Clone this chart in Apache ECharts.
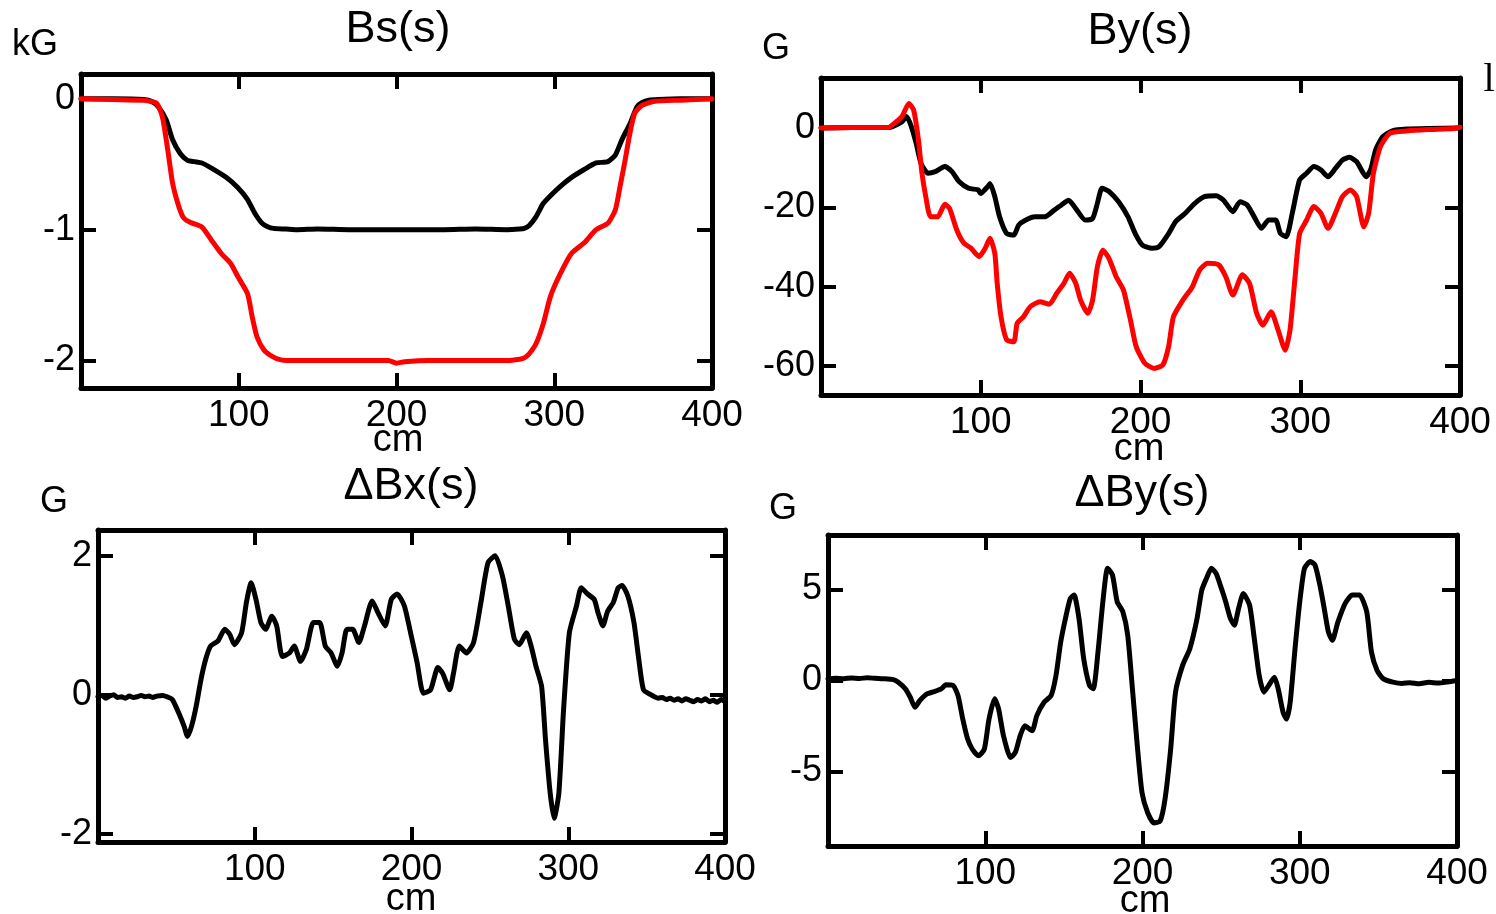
<!DOCTYPE html>
<html>
<head>
<meta charset="utf-8">
<script src="https://cdn.jsdelivr.net/npm/echarts@6/dist/echarts.min.js"></script>
<style>
  html, body { margin: 0; padding: 0; background: #fff; }
  #chart { width: 1496px; height: 914px; }
</style>
</head>
<body>
<div id="chart"></div>
<script>
// ---- Field profiles along the beam path (s in cm) ----

// Bs(s), kG
const bsBlackS = [0, 20, 40, 45, 49, 54, 58, 63, 67.5, 72, 76.7, 82.7, 92, 99.5, 105.6, 110, 114.7, 118, 122, 130, 137, 150, 170, 200, 230, 250, 270, 278, 281, 284, 288.5, 293, 297.6, 303.7, 311, 319, 326.5, 334, 338.7, 343, 348, 352.5, 356, 360, 366, 380, 400];
const bsBlackV = [0, 0, -0.005, -0.02, -0.06, -0.16, -0.31, -0.42, -0.47, -0.48, -0.49, -0.53, -0.6, -0.68, -0.77, -0.87, -0.95, -0.975, -0.99, -0.995, -1.0, -0.995, -1.0, -1.0, -1.0, -0.995, -1.0, -0.995, -0.99, -0.97, -0.9, -0.8, -0.74, -0.67, -0.6, -0.54, -0.49, -0.48, -0.43, -0.31, -0.19, -0.06, -0.025, -0.01, -0.005, 0, 0];

const bsRedS = [0, 20, 40, 44, 47.6, 50, 52, 55, 58, 61.4, 64.5, 67, 70.5, 76.7, 82.7, 88.8, 95, 99.5, 105.6, 108.6, 111.6, 116, 120, 124, 130, 150, 180, 195, 200, 205, 220, 250, 270, 278, 281, 284, 288.5, 293, 297.6, 303.7, 311, 319, 326.5, 334, 338.7, 341.7, 344.9, 348, 351, 355.6, 363, 380, 400];
const bsRedV = [0, -0.005, -0.01, -0.02, -0.03, -0.08, -0.16, -0.39, -0.64, -0.8, -0.9, -0.93, -0.95, -0.98, -1.08, -1.18, -1.26, -1.36, -1.49, -1.67, -1.82, -1.92, -1.96, -1.985, -2.0, -2.0, -2.0, -2.0, -2.02, -2.01, -2.0, -2.0, -2.0, -1.99, -1.98, -1.95, -1.87, -1.72, -1.51, -1.34, -1.18, -1.1, -1.0, -0.95, -0.85, -0.67, -0.47, -0.26, -0.11, -0.05, -0.02, -0.01, 0];

// By(s), G
const byBlackS = [0, 20, 42, 44.7, 50.7, 53.6, 56.6, 59.6, 62.6, 67, 71.5, 77.5, 82, 86.4, 92.4, 98.4, 99.9, 104.3, 105.8, 108.8, 111.8, 116.2, 120.7, 123.7, 128.2, 134, 140, 146, 150.5, 155, 159.5, 165.4, 170, 173, 175.9, 180.3, 186.3, 192.2, 196.7, 201.2, 207.2, 211.6, 217.6, 222, 228, 234, 240, 247.4, 252, 257.8, 262.3, 266.8, 271.2, 275.7, 280.2, 284.6, 287.6, 291.2, 295, 299.6, 304, 308.5, 313, 317.4, 322, 326.4, 330.8, 335.3, 341.3, 344.3, 347.2, 351.7, 357.7, 366.6, 380, 400];
const byBlackV = [0, 0.1, 0.1, 0.3, 1.6, 2.9, 0.3, -3.9, -8.9, -11.4, -11, -9.7, -11, -13.5, -15.2, -15.6, -16.5, -14.8, -14, -17.3, -22.4, -26.6, -27, -24.5, -23.2, -22.4, -22.4, -20.7, -19.4, -18.2, -20.3, -23.2, -22.8, -19, -15.2, -16, -18.6, -22.4, -26.6, -29.5, -30.3, -29.9, -26.6, -23.6, -21.5, -19, -17.3, -17.1, -18.2, -21.1, -18.6, -19.4, -22.4, -25.3, -23.2, -23.2, -26.6, -27.4, -21.5, -13.1, -11.4, -9.7, -10.6, -12.3, -10.2, -8.1, -7.4, -8.5, -12.3, -10.2, -5.5, -2.2, -0.7, -0.25, -0.1, 0];

const byRedS = [0, 20, 42, 44.7, 50.7, 55, 58, 61, 63.2, 65.6, 68.6, 73, 77.5, 80.5, 85, 89.4, 93.9, 99, 102.8, 105.8, 108.8, 110.3, 112.7, 116.2, 120.7, 122.8, 126.7, 131.1, 137, 143, 147.5, 152, 155.6, 159.5, 162.5, 167, 170, 173, 176.5, 180.3, 184.8, 189.3, 193.7, 197.3, 202.7, 208.6, 214, 217.6, 220.6, 226.5, 232.5, 237, 242, 248.9, 253.4, 257.8, 263.8, 268.3, 272.7, 276.6, 281.7, 286.1, 290.6, 293.6, 296.6, 299.6, 304, 308.5, 313, 317.4, 322, 326.4, 331.4, 335.3, 339.8, 342.8, 345.8, 350.2, 356.2, 366.6, 380, 396, 400];
const byRedV = [0, 0.1, 0.1, 0.8, 2.9, 6.2, 4.5, -3, -11.4, -17.3, -22.4, -22.4, -19.2, -20.3, -25.7, -29, -30.3, -32.4, -30.3, -27.8, -31.6, -39.2, -47.6, -53.4, -53.9, -49.2, -47.6, -45, -43.8, -44.4, -41.7, -39.2, -36.6, -39.2, -43.4, -46.7, -43.4, -35, -30.8, -32.9, -37.5, -40.8, -48.4, -55.1, -59.3, -60.6, -59.7, -55.1, -47.6, -43.4, -40, -35.8, -34.1, -34.5, -37.5, -42.1, -37, -39.2, -46.7, -49.7, -46.3, -50.9, -56, -50.9, -38.3, -26.6, -23.2, -19.8, -21.5, -25.3, -21.5, -17.3, -15.6, -17.3, -24.9, -21.5, -11.4, -4.7, -1.3, -0.75, -0.4, -0.1, 0.2];

// ΔBx(s), G
const dbxS = [0, 2.5, 5, 7.5, 10, 12.5, 15, 17.5, 20, 22.5, 25, 27.5, 30, 32.5, 35, 37.5, 41.3, 44, 47.4, 52, 55, 57.1, 59.6, 62.6, 65.7, 68.7, 71.8, 76.4, 80.9, 84, 87, 91.6, 94.7, 97.7, 100.8, 103.9, 106.9, 110.9, 114, 117.6, 122.2, 125.2, 129.2, 132.9, 137.4, 141.4, 145, 148.7, 152.7, 155.7, 158.8, 162.5, 166.4, 170, 174.9, 178.6, 183.2, 187.1, 190.8, 195.4, 199.9, 203.6, 207.6, 212.2, 216.8, 219.8, 224.4, 226.8, 230.5, 235.1, 239.6, 244.3, 248.8, 253.4, 258, 261.7, 265.6, 268.7, 273.3, 276.3, 279.4, 283, 285.5, 288.5, 291, 294, 297, 300.7, 305.3, 308.3, 312.3, 316.6, 319, 322.1, 325.1, 328.8, 331.9, 334.3, 338, 341.9, 345, 348, 352.6, 355, 357.5, 360, 362.5, 365, 367.5, 370, 372.5, 375, 377.5, 380, 382.5, 385, 387.5, 390, 392.5, 395, 397.5, 400];
const dbxV = [-0.03, -0.01, -0.05, -0.02, 0.0, -0.04, -0.03, -0.05, -0.02, -0.04, -0.03, -0.01, -0.03, -0.02, -0.04, -0.02, -0.01, -0.03, -0.07, -0.29, -0.46, -0.6, -0.46, -0.17, 0.22, 0.51, 0.7, 0.77, 0.94, 0.87, 0.72, 0.89, 1.33, 1.61, 1.37, 1.04, 0.94, 1.13, 0.99, 0.55, 0.6, 0.7, 0.48, 0.65, 1.04, 1.04, 0.7, 0.6, 0.41, 0.6, 0.94, 0.94, 0.75, 0.99, 1.35, 1.18, 0.99, 1.37, 1.45, 1.28, 0.84, 0.46, 0.02, 0.07, 0.39, 0.31, 0.07, 0.31, 0.7, 0.6, 0.75, 1.33, 1.9, 2.0, 1.71, 1.28, 0.8, 0.72, 0.89, 0.7, 0.41, 0.12, -0.65, -1.42, -1.78, -1.42, -0.22, 0.89, 1.28, 1.54, 1.45, 1.37, 1.18, 0.99, 1.2, 1.33, 1.54, 1.57, 1.42, 1.04, 0.51, 0.07, 0.0, -0.03, -0.05, -0.04, -0.07, -0.05, -0.08, -0.06, -0.09, -0.06, -0.08, -0.1, -0.07, -0.09, -0.06, -0.1, -0.08, -0.11, -0.07, -0.1, -0.09];

// ΔBy(s), G
const dbyS = [0, 5, 10, 15, 20, 25, 30, 35, 41.6, 44.7, 49.2, 52.3, 55.3, 58.4, 62.9, 67.5, 72, 75, 79.6, 82.7, 85.7, 88.8, 91.8, 95.7, 99.4, 102.4, 106, 108.5, 111.6, 116.1, 119.1, 122.2, 125.2, 129.8, 132.8, 137.4, 141.9, 145, 148, 151, 154.1, 156.5, 159.6, 162.6, 166.3, 168.7, 171.7, 174.8, 177.8, 180.9, 183.9, 187.5, 190.6, 193.6, 196.7, 199.7, 203.3, 207.3, 211.2, 214.3, 217.9, 221, 225.5, 230.1, 234.7, 237.7, 240.7, 243.8, 246.8, 249.8, 252.9, 255.9, 258.4, 261.1, 264.1, 268.1, 271.1, 274.2, 277.2, 280.2, 283.9, 286.3, 289.4, 291.5, 293.9, 297, 300, 303, 306.7, 309.7, 312.8, 315.2, 318.2, 320.7, 324.3, 328.9, 333.4, 338, 342.6, 345.6, 349.2, 353.2, 359.3, 365, 370, 376, 382, 388, 394, 400];
const dbyV = [0.08, 0.12, 0.1, 0.14, 0.11, 0.15, 0.12, 0.1, 0.05, -0.1, -0.46, -0.92, -1.47, -1.1, -0.74, -0.61, -0.46, -0.24, -0.28, -0.83, -2.12, -3.22, -3.78, -4.14, -3.78, -2.12, -1.01, -1.57, -3.04, -4.24, -3.96, -3.04, -2.49, -2.76, -1.93, -1.2, -0.83, 0.28, 2.12, 3.41, 4.51, 4.7, 3.41, 1.2, -0.28, -0.46, 1.57, 4.33, 6.17, 5.8, 4.33, 3.78, 2.49, -0.46, -3.59, -6.17, -7.27, -7.83, -7.73, -6.54, -3.78, -0.64, 0.83, 1.75, 3.41, 4.97, 5.62, 6.17, 5.89, 5.16, 4.33, 3.41, 3.04, 3.96, 4.79, 4.14, 2.3, 0.28, -0.64, -0.28, 0.18, -0.46, -1.75, -2.12, -1.2, 1.75, 4.33, 6.17, 6.54, 6.35, 5.25, 4.14, 2.67, 2.21, 3.22, 4.24, 4.7, 4.7, 3.78, 1.57, 0.55, 0.09, -0.09, -0.16, -0.12, -0.18, -0.1, -0.14, -0.08, 0];

// Axis tick / label positions
const xLabelVals = [100, 200, 300, 400];
const xTickVals = [100, 200, 300];
const bsTicks = [0, -1, -2];
const byTicks = [0, -20, -40, -60];
const dbxTicks = [2, 0, -2];
const dbyTicks = [5, 0, -5];

const FONT = "'Liberation Sans', Arial, Helvetica, sans-serif";
const pairs = (s, v) => s.map((x, i) => [x, v[i]]);

const panels = [
  { grid: { left: 81, top: 74, width: 631, height: 314 }, yMin: -2.21, yMax: 0.19, ticks: bsTicks },
  { grid: { left: 821, top: 78, width: 639, height: 317 }, yMin: -67.3, yMax: 12.6, ticks: byTicks },
  { grid: { left: 98, top: 530, width: 627, height: 312 }, yMin: -2.12, yMax: 2.37, ticks: dbxTicks },
  { grid: { left: 828, top: 535, width: 629, height: 311 }, yMin: -9.1, yMax: 8.0, ticks: dbyTicks }
];

const lineAxis = { show: true, onZero: false, lineStyle: { color: '#000', width: 5 } };
const tickStyle = { color: '#000', width: 4 };

const grids = [], xAxes = [], yAxes = [];
panels.forEach((p, gi) => {
  grids.push(Object.assign({ containLabel: false }, p.grid));
  ['bottom', 'top'].forEach(pos => {
    xAxes.push({
      gridIndex: gi, type: 'value', position: pos, min: 0, max: 400,
      axisLine: lineAxis,
      axisTick: { show: true, inside: true, length: 15, lineStyle: tickStyle, customValues: xTickVals },
      axisLabel: {
        show: pos === 'bottom', customValues: xLabelVals, margin: 9,
        fontSize: 37, fontFamily: FONT, color: '#000'
      },
      splitLine: { show: false }
    });
  });
  ['left', 'right'].forEach(pos => {
    yAxes.push({
      gridIndex: gi, type: 'value', position: pos, min: p.yMin, max: p.yMax,
      axisLine: lineAxis,
      axisTick: { show: true, inside: true, length: 15, lineStyle: tickStyle, customValues: p.ticks },
      axisLabel: {
        show: pos === 'left', customValues: p.ticks, margin: 6,
        fontSize: 36, fontFamily: FONT, color: '#000'
      },
      splitLine: { show: false }
    });
  });
});

function line(gi, data, color) {
  return {
    type: 'line', xAxisIndex: gi * 2, yAxisIndex: gi * 2, data: data,
    showSymbol: false, smooth: 0.2, clip: true,
    lineStyle: { color: color, width: 5, cap: 'round', join: 'round' },
    emphasis: { disabled: true }
  };
}

const series = [
  line(0, pairs(bsBlackS, bsBlackV), '#000'),
  line(0, pairs(bsRedS, bsRedV), '#ff0000'),
  line(1, pairs(byBlackS, byBlackV), '#000'),
  line(1, pairs(byRedS, byRedV), '#ff0000'),
  line(2, pairs(dbxS, dbxV), '#000'),
  line(3, pairs(dbyS, dbyV), '#000')
];

function label(text, x, y, size, family) {
  return {
    type: 'text', x: x, y: y, silent: true,
    style: {
      text: text, fill: '#000', font: size + 'px ' + (family || FONT),
      align: 'center', verticalAlign: 'middle',
      textAlign: 'center', textVerticalAlign: 'middle'
    }
  };
}

const texts = [
  label('Bs(s)', 398, 30, 45),
  label('By(s)', 1140, 32, 45),
  label('\u0394Bx(s)', 411, 487, 45),
  label('\u0394By(s)', 1142, 494, 45),
  label('kG', 35, 45, 36),
  label('G', 776, 49, 36),
  label('G', 54, 502, 36),
  label('G', 783, 509, 36),
  label('cm', 398, 441, 38),
  label('cm', 1139, 450, 38),
  label('cm', 411, 900, 38),
  label('cm', 1145, 902, 38),
  label('l', 1489, 80, 40, "'Liberation Serif', 'Times New Roman', serif")
];

const chart = echarts.init(document.getElementById('chart'), null, { renderer: 'canvas' });
chart.setOption({
  animation: false,
  backgroundColor: '#fff',
  grid: grids,
  xAxis: xAxes,
  yAxis: yAxes,
  series: series,
  graphic: texts
});
</script>
</body>
</html>
